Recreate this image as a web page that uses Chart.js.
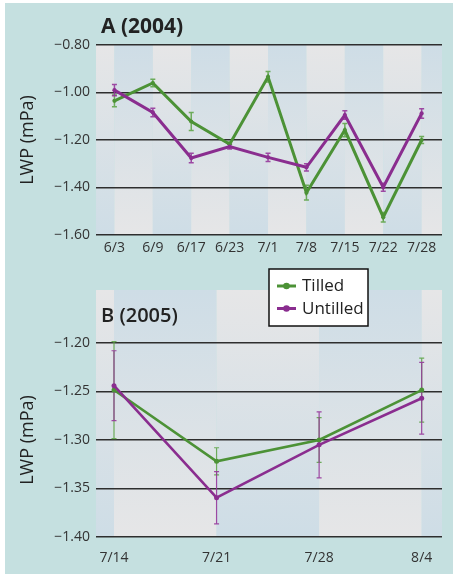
<!DOCTYPE html>
<html>
<head>
<meta charset="utf-8">
<script src="https://cdn.jsdelivr.net/npm/chart.js@4/dist/chart.umd.min.js"></script>
<style>
  html, body { margin: 0; padding: 0; background: #ffffff; width: 453px; height: 577px; overflow: hidden; }
  #panel { position: absolute; left: 5px; top: 3px; width: 448px; height: 571px; background: #c5e0e0; }
  #boxA { position: absolute; left: 0; top: 0; width: 453px; height: 262px; }
  #boxB { position: absolute; left: 0; top: 250px; width: 453px; height: 327px; }
  canvas { display: block; }
</style>
</head>
<body>
<div id="panel"></div>
<div id="boxA"><canvas id="chartA" width="453" height="262" style="width:453px;height:262px"></canvas></div>
<div id="boxB"><canvas id="chartB" width="453" height="327" style="width:453px;height:327px"></canvas></div>
<script>
// ---------- Data ----------
const categoriesA = ['6/3', '6/9', '6/17', '6/23', '7/1', '7/8', '7/15', '7/22', '7/28'];
const tilledA      = [-1.035, -0.960, -1.122, -1.218, -0.934, -1.422, -1.158, -1.525, -1.200];
const tilledErrA   = [0.025, 0.016, 0.038, 0.010, 0.022, 0.031, 0.028, 0.020, 0.015];
const untilledA    = [-0.990, -1.084, -1.276, -1.228, -1.273, -1.315, -1.095, -1.399, -1.088];
const untilledErrA = [0.024, 0.018, 0.020, 0.010, 0.017, 0.015, 0.018, 0.017, 0.020];
const yTicksA = [-0.80, -1.00, -1.20, -1.40, -1.60];

const categoriesB = ['7/14', '7/21', '7/28', '8/4'];
const tilledB      = [-1.2485, -1.322, -1.300, -1.2485];
const tilledErrB   = [0.050, 0.014, 0.023, 0.033];
const untilledB    = [-1.244, -1.3595, -1.305, -1.257];
const untilledErrB = [0.036, 0.027, 0.034, 0.037];
const yTicksB = [-1.20, -1.25, -1.30, -1.35, -1.40];

const seriesNames = ['Tilled', 'Untilled'];

// ---------- Styles ----------
const GREEN = '#4c9236';
const PURPLE = '#8a2d8f';
const GREEN_ERR = 'rgba(96,165,74,0.9)';
const PURPLE_ERR = 'rgba(150,55,155,0.9)';
const FONT = "'Open Sans', 'Noto Sans', sans-serif";
const TICK_COLOR = '#333333';
const GRID_COLOR = '#2e2e2e';

function fmt(v) { return (v < 0 ? '\u2212' : '') + Math.abs(v).toFixed(2); }

// ---------- Plugins ----------
const bandsPlugin = {
  id: 'bands',
  beforeDraw(chart, args, opts) {
    const { ctx, chartArea: ca, scales: { x } } = chart;
    const top = ca.top - (opts.extendTop || 0);
    const bottom = ca.bottom;
    const edges = [ca.left];
    x.ticks.forEach(t => edges.push(x.getPixelForValue(t.value)));
    edges.push(ca.right);
    const grey = '#e6e6e7', blue = '#cedde6';
    ctx.save();
    for (let k = 0; k < edges.length - 1; k++) {
      const g = ctx.createLinearGradient(0, top, 0, bottom);
      if (k % 2 === 0) { g.addColorStop(0, grey); g.addColorStop(1, blue); }
      else { g.addColorStop(0, blue); g.addColorStop(1, grey); }
      ctx.fillStyle = g;
      ctx.fillRect(edges[k], top, edges[k + 1] - edges[k], bottom - top);
    }
    ctx.restore();
  }
};

const errorBarsPlugin = {
  id: 'errorBars',
  beforeDatasetsDraw(chart, args, opts) {
    const { ctx, scales: { y } } = chart;
    ctx.save();
    chart.data.datasets.forEach((ds, i) => {
      const meta = chart.getDatasetMeta(i);
      if (!ds.errorBars) return;
      ctx.strokeStyle = ds.errorColor;
      ctx.lineWidth = opts.lineWidth || 1.5;
      meta.data.forEach((pt, j) => {
        const v = ds.data[j].y, e = ds.errorBars[j];
        const y1 = y.getPixelForValue(v + e), y2 = y.getPixelForValue(v - e);
        const cw = opts.capHalf || 2.5;
        ctx.beginPath();
        ctx.moveTo(pt.x, y1); ctx.lineTo(pt.x, y2);
        ctx.moveTo(pt.x - cw, y1); ctx.lineTo(pt.x + cw, y1);
        ctx.moveTo(pt.x - cw, y2); ctx.lineTo(pt.x + cw, y2);
        ctx.stroke();
      });
    });
    ctx.restore();
  }
};

const panelTitlePlugin = {
  id: 'panelTitle',
  afterDraw(chart, args, opts) {
    const { ctx, chartArea: ca } = chart;
    ctx.save();
    ctx.font = opts.font;
    ctx.fillStyle = '#222222';
    ctx.textAlign = 'left';
    ctx.textBaseline = 'alphabetic';
    ctx.fillText(opts.text, ca.left + opts.dx, ca.top + opts.dy);
    ctx.restore();
  }
};

const boxLegendPlugin = {
  id: 'boxLegend',
  afterDraw(chart, args, opts) {
    if (!opts.display) return;
    const { ctx, chartArea: ca } = chart;
    const x0 = ca.left + opts.dx, y0 = ca.top + opts.dy;
    ctx.save();
    ctx.fillStyle = '#ffffff';
    ctx.fillRect(x0, y0, opts.w, opts.h);
    ctx.strokeStyle = '#111111';
    ctx.lineWidth = 1.5;
    ctx.strokeRect(x0, y0, opts.w, opts.h);
    ctx.font = opts.font;
    ctx.textBaseline = 'middle';
    ctx.textAlign = 'left';
    seriesNames.forEach((name, i) => {
      const ds = chart.data.datasets.find(d => d.label === name);
      const cy = y0 + 17 + i * 22.5;
      ctx.strokeStyle = ds.borderColor;
      ctx.lineWidth = 3;
      ctx.beginPath();
      ctx.moveTo(x0 + 8, cy); ctx.lineTo(x0 + 27, cy);
      ctx.stroke();
      ctx.fillStyle = ds.borderColor;
      ctx.beginPath();
      ctx.arc(x0 + 17.5, cy, 3.3, 0, Math.PI * 2);
      ctx.fill();
      ctx.fillStyle = '#222222';
      ctx.fillText(name, x0 + 33, cy + 0.5);
    });
    ctx.restore();
  }
};

// ---------- Chart builder ----------
function buildChart(canvasId, cfg) {
  const toPts = arr => arr.map((v, i) => ({ x: i, y: v }));
  return new Chart(document.getElementById(canvasId), {
    type: 'line',
    data: {
      datasets: [
        { label: 'Tilled', data: toPts(cfg.tilled), errorBars: cfg.tilledErr, errorColor: GREEN_ERR,
          borderColor: GREEN, backgroundColor: GREEN, borderWidth: cfg.lineWidth,
          pointRadius: cfg.pointRadius, pointHoverRadius: cfg.pointRadius, pointBorderWidth: 0,
          tension: 0, clip: false, order: 1 },
        { label: 'Untilled', data: toPts(cfg.untilled), errorBars: cfg.untilledErr, errorColor: PURPLE_ERR,
          borderColor: PURPLE, backgroundColor: PURPLE, borderWidth: cfg.lineWidth,
          pointRadius: cfg.pointRadius, pointHoverRadius: cfg.pointRadius, pointBorderWidth: 0,
          tension: 0, clip: false, order: 0 }
      ]
    },
    options: {
      responsive: false,
      animation: false,
      events: [],
      layout: { padding: { top: cfg.padTop, right: 11, left: 0, bottom: 0 } },
      scales: {
        x: {
          type: 'linear',
          min: cfg.xMin, max: cfg.xMax,
          afterBuildTicks: s => { s.ticks = cfg.categories.map((c, i) => ({ value: i })); },
          afterFit: s => { s.height = cfg.xHeight; },
          ticks: {
            callback: v => cfg.categories[v],
            color: TICK_COLOR, font: { family: FONT, size: 14 }, padding: cfg.xPad,
            maxRotation: 0, autoSkip: false
          },
          grid: { display: false, drawTicks: false },
          border: { display: false }
        },
        y: {
          type: 'linear',
          min: cfg.yMin, max: cfg.yMax,
          afterBuildTicks: s => { s.ticks = cfg.yTicks.map(v => ({ value: v })); },
          afterFit: s => { s.width = 96; },
          ticks: { callback: v => fmt(v), color: TICK_COLOR, font: { family: FONT, size: 14 }, padding: 6 },
          grid: { color: GRID_COLOR, lineWidth: 1.6, drawTicks: false },
          border: { display: false },
          title: { display: true, text: 'LWP (mPa)', color: '#222222',
                   font: { family: FONT, size: 18 }, padding: { top: 17, bottom: 0 } }
        }
      },
      plugins: {
        legend: { display: false },
        tooltip: { enabled: false },
        bands: { extendTop: cfg.bandExtend },
        errorBars: { lineWidth: cfg.errWidth, capHalf: 2.5 },
        panelTitle: cfg.title,
        boxLegend: cfg.legend
      }
    },
    plugins: [bandsPlugin, errorBarsPlugin, panelTitlePlugin, boxLegendPlugin]
  });
}

buildChart('chartA', {
  categories: categoriesA, tilled: tilledA, tilledErr: tilledErrA,
  untilled: untilledA, untilledErr: untilledErrA, yTicks: yTicksA,
  yMin: -1.60, yMax: -0.80, xMin: -0.48, xMax: 8.53,
  padTop: 45, xHeight: 27, xPad: 5, bandExtend: 0,
  lineWidth: 3, pointRadius: 2.1, errWidth: 1.5,
  title: { text: 'A (2004)', font: "bold 21px " + FONT, dx: 5, dy: -11.7 },
  legend: { display: false }
});

buildChart('chartB', {
  categories: categoriesB, tilled: tilledB, tilledErr: tilledErrB,
  untilled: untilledB, untilledErr: untilledErrB, yTicks: yTicksB,
  yMin: -1.40, yMax: -1.20, xMin: -0.1755, xMax: 3.198,
  padTop: 93, xHeight: 40, xPad: 13, bandExtend: 53,
  lineWidth: 2.6, pointRadius: 2.5, errWidth: 1.2,
  title: { text: 'B (2005)', font: "600 20px " + FONT, dx: 5, dy: -21.5 },
  legend: { display: true, dx: 173, dy: -74, w: 99, h: 57, font: "17px " + FONT }
});
</script>
</body>
</html>
